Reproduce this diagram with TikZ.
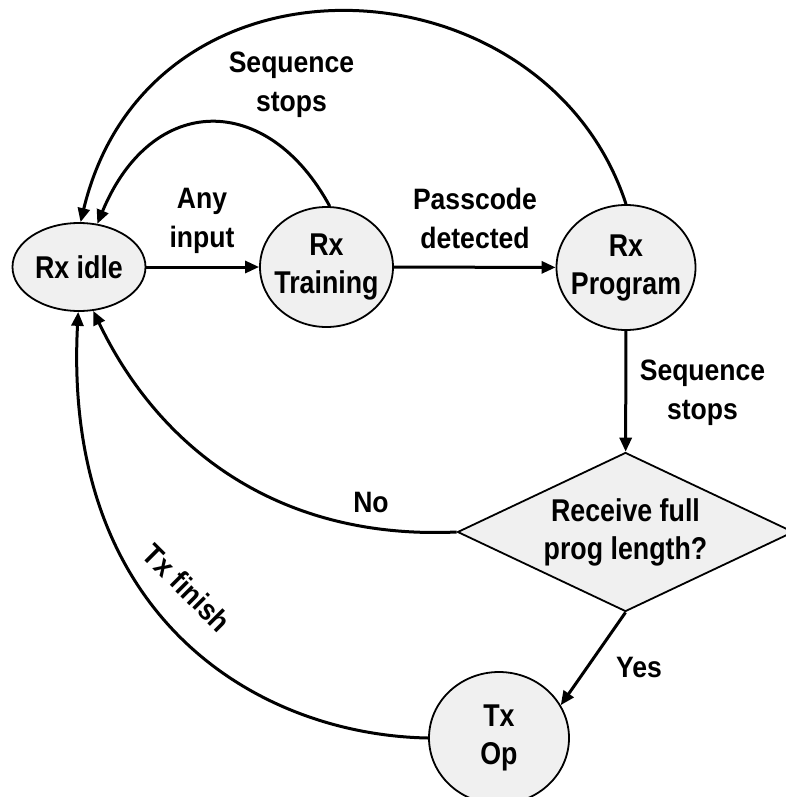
\documentclass[tikz,border=0pt]{standalone}
\usepackage{fontspec}
\setmainfont{Liberation Sans}
\newfontfamily\statefont{Liberation Sans}[FakeStretch=0.85]
\newfontfamily\edgefont{Liberation Sans}[FakeStretch=0.9]
\usetikzlibrary{arrows.meta,shapes.geometric}
\definecolor{statefill}{RGB}{240,240,240}

\begin{document}
\begin{tikzpicture}[x=1pt,y=-1pt,
  state/.style={ellipse, draw, line width=1.8pt, fill=statefill,
    inner sep=-25pt, align=center,
    font=\statefont\bfseries\fontsize{31.5}{38}\selectfont},
  decision/.style={diamond, draw, line width=1.8pt, fill=statefill,
    aspect=2.1, inner sep=-10pt, align=center,
    minimum width=336pt, minimum height=159pt,
    font=\statefont\bfseries\fontsize{31.5}{38}\selectfont},
  link/.style={line width=3pt, -{Triangle[length=14pt,width=12pt]}},
  lbl/.style={inner sep=0pt, align=center,
    font=\edgefont\bfseries\fontsize{29.5}{39}\selectfont}]

\useasboundingbox (0,0) rectangle (786,797);

% states
\node[state, minimum width=133pt, minimum height=88pt]  (idle)  at (79,267)    {Rx idle};
\node[state, minimum width=133pt, minimum height=120pt] (train) at (326.5,267) {Rx\\Training};
\node[state, minimum width=139pt, minimum height=125pt] (prog)  at (626,267.5) {Rx\\Program};
\node[decision] (dec) at (625.5,532) {Receive full\\prog length?};
\node[state, minimum width=140pt, minimum height=132pt] (txop)  at (499,738)   {Tx\\Op};

% transitions
\draw[link] (idle) -- (train);
\draw[link] (train) -- (prog);
\draw[link] (prog) -- (dec);
\draw[link] (dec.south) -- (txop.28);
\draw[link] (train.87) .. controls (268,92) and (152,92) .. (idle.67);
\draw[link] (prog.north) .. controls (545,-44) and (150,-66) .. (idle.88);
\draw[link] (dec.west) .. controls (280,540) and (160,450) .. (idle.-72);
\draw[link] (txop.west) .. controls (260,735) and (62,620) .. (idle.-91);

% transition labels
\node[lbl] (lany)  at (202,221)   {Any\\input};
\node[lbl] (lpass) at (475,218)   {Passcode\\detected};
\node[lbl] (lseqa) at (291.5,85)  {Sequence\\stops};
\node[lbl] (lseqb) at (702.5,393) {Sequence\\stops};
\node[lbl] (lno)   at (371,502)   {No};
\node[lbl] (lyes)  at (639,667)   {Yes};
\node[lbl, rotate=-45] (lfin) at (187,588) {Tx finish};
\end{tikzpicture}
\end{document}
